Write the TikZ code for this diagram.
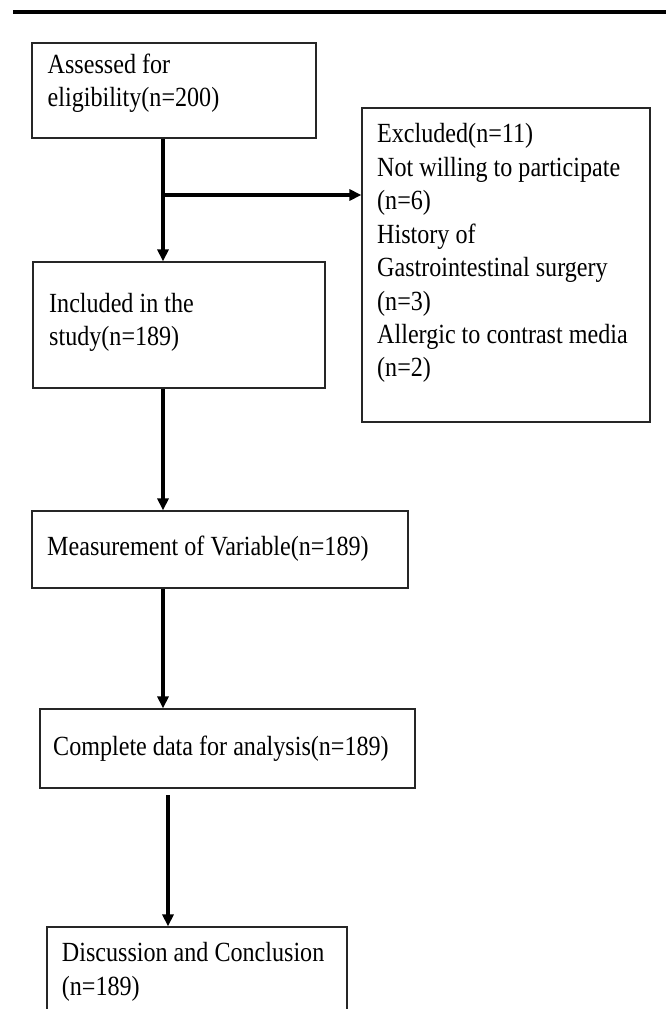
\documentclass[tikz,border=0pt]{standalone}
\usepackage{fontspec}
\setmainfont{Liberation Serif}
\usepackage{graphicx}
\usetikzlibrary{arrows.meta}
\newcommand\boxtext[1]{\scalebox{1}[1.15]{\begin{tabular}[t]{@{}l@{}}#1\end{tabular}}}
\tikzset{
  box/.style={draw=black!85, line width=1.2pt, rectangle, inner sep=0pt},
  txt/.style={inner sep=0pt, anchor=base west, font=\fontsize{24.1}{29.1}\selectfont},
  arr/.style={line width=3.5pt, -{Triangle[length=12pt,width=11pt]}},
  plain/.style={line width=3.5pt}
}
\begin{document}
\begin{tikzpicture}[x=1pt,y=-1pt]
\useasboundingbox (0,0) rectangle (669,1009);
\clip (0,0) rectangle (669,1009);
% top rule
\coordinate (rl) at (13,12);
\coordinate (rr) at (666,12);
\draw[line width=4pt] (rl) -- (rr);
% boxes
\node[box, minimum width=284pt, minimum height=95pt] (b1) at (174,90.5) {};
\node[box, minimum width=292pt, minimum height=126pt] (b2) at (179,325) {};
\node[box, minimum width=288pt, minimum height=314pt] (ex) at (506,265) {};
\node[box, minimum width=376pt, minimum height=77pt] (b3) at (220,549.5) {};
\node[box, minimum width=375pt, minimum height=79pt] (b4) at (227.5,748.5) {};
\node[box, minimum width=300pt, minimum height=120pt] (b5) at (197,987) {};
% texts
\node[txt] (t1) at (47.5,73.3) {\boxtext{Assessed for\\eligibility(n=200)}};
\node[txt] (t2) at (49,312) {\boxtext{Included in the\\study(n=189)}};
\node[txt] (te) at (377,142.7) {\boxtext{Excluded(n=11)\\Not willing to participate\\(n=6)\\History of\\Gastrointestinal surgery\\(n=3)\\Allergic to contrast media\\(n=2)}};
\node[txt] (t3) at (47,555) {\boxtext{Measurement of Variable(n=189)}};
\node[txt] (t4) at (53,755) {\boxtext{Complete data for analysis(n=189)}};
\node[txt] (t5) at (61.7,961.7) {\boxtext{Discussion and Conclusion\\(n=189)}};
% connectors
\coordinate (ax) at (163,0);
\coordinate (bx) at (168,795);
\coordinate (br) at (163,195);
\draw[arr] (b1.south -| ax) -- (b2.north -| ax);
\draw[arr] (br) -- (ex.west |- br);
\draw[arr] (b2.south -| ax) -- (b3.north -| ax);
\draw[arr] (b3.south -| ax) -- (b4.north -| ax);
\draw[arr] (bx) -- (b5.north -| bx);
\end{tikzpicture}
\end{document}
